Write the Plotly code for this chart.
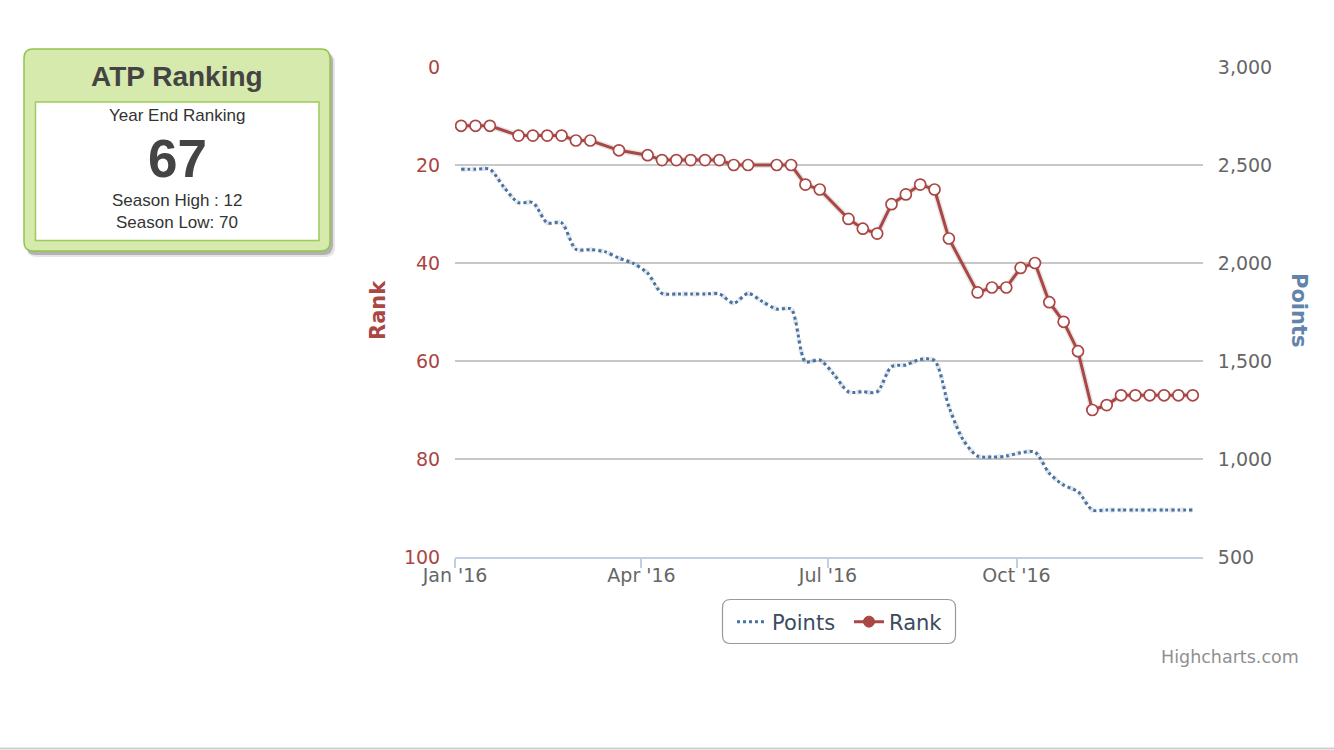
import plotly.graph_objects as go
import pandas as pd

# ---------------- data ----------------
week_start = "2016-01-04"
rank = [12, 12, 12, None, 14, 14, 14, 14, 15, 15, None, 17, None, 18, 19, 19, 19, 19, 19,
        20, 20, None, 20, 20, 24, 25, None, 31, 33, 34, 28, 26, 24, 25, 35, None,
        46, 45, 45, 41, 40, 48, 52, 58, 70, 69, 67, 67, 67, 67, 67, 67]
points = [2478, 2478, 2478, 2385, 2308, 2308, 2205, 2205, 2070, 2068, 2058, 2025, 1998, 1948,
          1845, 1842, 1842, 1842, 1842, 1795, 1845, 1803, 1765, 1765, 1497, 1505, 1430,
          1343, 1343, 1343, 1471, 1480, 1508, 1502, 1267, 1097, 1015, 1010, 1015, 1032,
          1035, 927, 867, 833, 740, 740, 740, 740, 740, 740, 740, 740]
x_tick_vals = ["2016-01-01", "2016-04-01", "2016-07-01", "2016-10-01"]
x_tick_text = ["Jan '16", "Apr '16", "Jul '16", "Oct '16"]
rank_ticks = [0, 20, 40, 60, 80, 100]
points_ticks = [500, 1000, 1500, 2000, 2500, 3000]
card_title = "ATP Ranking"
card_label = "Year End Ranking"
year_end_rank = 67
season_high = 12
season_low = 70

dates = pd.date_range(week_start, periods=len(rank), freq="7D")

# ---------------- layout helpers ----------------
W_FIG, H_FIG = 1334, 750
L, R, T, B = 455, 1203, 67, 557
PW, PH = R - L, B - T


def xp(px):
    return (px - L) / PW


def yp(py):
    return (B - py) / PH


def rrect(x0, y0, x1, y1, r):
    rx, ry = r / PW, r / PH
    X0, X1 = xp(x0), xp(x1)
    Y0, Y1 = yp(y0), yp(y1)  # Y0 top (larger), Y1 bottom
    return (f"M {X0+rx},{Y0} L {X1-rx},{Y0} Q {X1},{Y0} {X1},{Y0-ry} "
            f"L {X1},{Y1+ry} Q {X1},{Y1} {X1-rx},{Y1} L {X0+rx},{Y1} "
            f"Q {X0},{Y1} {X0},{Y1+ry} L {X0},{Y0-ry} Q {X0},{Y0} {X0+rx},{Y0} Z")


RED = "#AA4643"
BLUE = "#4572A7"
SHADOW = "rgba(0,0,0,0.10)"

fig = go.Figure()

# soft shadows (Highcharts style)
fig.add_trace(go.Scatter(
    x=dates, y=points, yaxis="y2", mode="lines", showlegend=False, hoverinfo="skip",
    line=dict(color=SHADOW, width=5, dash="dot", shape="spline", smoothing=0.8)))
fig.add_trace(go.Scatter(
    x=dates, y=rank, mode="lines", connectgaps=True, showlegend=False, hoverinfo="skip",
    line=dict(color=SHADOW, width=6)))

fig.add_trace(go.Scatter(
    x=dates, y=points, name="Points", yaxis="y2", mode="lines",
    line=dict(color=BLUE, width=3, dash="dot", shape="spline", smoothing=0.8),
    hoverinfo="x+y"))

fig.add_trace(go.Scatter(
    x=[None], y=[None], name="Rank", mode="lines+markers",
    line=dict(color=RED, width=3),
    marker=dict(color=RED, size=11, line=dict(color=RED, width=1))))

fig.add_trace(go.Scatter(
    x=dates, y=rank, name="Rank", mode="lines+markers", connectgaps=True,
    showlegend=False,
    line=dict(color=RED, width=3),
    marker=dict(color="white", size=11, line=dict(color=RED, width=1.7))))

shapes = []
# bottom page line
shapes.append(dict(type="line", xref="paper", yref="paper",
                   x0=xp(0), x1=xp(W_FIG), y0=yp(748.5), y1=yp(748.5),
                   line=dict(color="#cfcfcf", width=2), layer="below"))
# card shadow
shapes.append(dict(type="path", xref="paper", yref="paper",
                   path=rrect(27, 53, 335, 257, 10),
                   fillcolor="rgba(0,0,0,0.10)", line=dict(width=0)))
shapes.append(dict(type="path", xref="paper", yref="paper",
                   path=rrect(26, 52, 333, 255, 10),
                   fillcolor="rgba(0,0,0,0.22)", line=dict(width=0)))
# card body
shapes.append(dict(type="path", xref="paper", yref="paper",
                   path=rrect(24, 49, 330, 251, 9),
                   fillcolor="#d6eaae", line=dict(color="#93c54b", width=1.5)))
# inner white box
shapes.append(dict(type="rect", xref="paper", yref="paper",
                   x0=xp(35.5), x1=xp(319), y0=yp(102), y1=yp(240.5),
                   fillcolor="white", line=dict(color="#9ccc5a", width=1.5)))
# legend box
shapes.append(dict(type="path", xref="paper", yref="paper",
                   path=rrect(722.5, 599.5, 955.5, 643.5, 8),
                   fillcolor="white", line=dict(color="#999999", width=1.2),
                   layer="below"))

CARD_FONT = "Liberation Sans, Arial, sans-serif"
annotations = [
    dict(text=f"<b>{card_title}</b>", x=xp(177), y=yp(76),
         font=dict(family=CARD_FONT, size=28, color="#444444")),
    dict(text=card_label, x=xp(177), y=yp(116),
         font=dict(family=CARD_FONT, size=17, color="#333333")),
    dict(text=f"<b>{year_end_rank}</b>", x=xp(177), y=yp(158),
         font=dict(family=CARD_FONT, size=53, color="#444444")),
    dict(text=f"Season High : {season_high}", x=xp(177), y=yp(201),
         font=dict(family=CARD_FONT, size=17, color="#333333")),
    dict(text=f"Season Low: {season_low}", x=xp(177), y=yp(222),
         font=dict(family=CARD_FONT, size=17, color="#333333")),
    dict(text="<b>Rank</b>", x=xp(378), y=yp(310), textangle=-90,
         font=dict(family="DejaVu Sans", size=21, color=RED)),
    dict(text="<b>Points</b>", x=xp(1299), y=yp(310), textangle=90,
         font=dict(family="DejaVu Sans", size=21, color="#6283aa")),
    dict(text="Highcharts.com", x=xp(1301), y=yp(657), xanchor="right",
         font=dict(family="DejaVu Sans", size=17.5, color="#909090")),
]
for a in annotations:
    a.setdefault("xref", "paper")
    a.setdefault("yref", "paper")
    a.setdefault("showarrow", False)
    a.setdefault("xanchor", "center")
    a.setdefault("yanchor", "middle")

fig.update_layout(
    width=W_FIG, height=H_FIG, autosize=False,
    margin=dict(l=L, r=W_FIG - R, t=T, b=H_FIG - B, pad=0),
    paper_bgcolor="white", plot_bgcolor="white",
    font=dict(family="DejaVu Sans", color="#666666"),
    xaxis=dict(type="date", range=["2016-01-01", "2016-12-31"],
               tickvals=x_tick_vals, ticktext=x_tick_text,
               showgrid=False, zeroline=False,
               showline=True, linecolor="#C0D0E0", linewidth=1.5,
               ticks="outside", tickcolor="#C0D0E0", ticklen=9, tickwidth=1.5,
               ticklabelstandoff=-9,
               tickfont=dict(size=19, color="#666666")),
    yaxis=dict(range=[100, 0], tickvals=rank_ticks,
               showgrid=True, gridcolor="#C8C8C8", gridwidth=1.5,
               zeroline=False, showline=False,
               ticks="outside", ticklen=10, tickcolor="rgba(0,0,0,0)",
               tickfont=dict(size=19, color=RED)),
    yaxis2=dict(range=[500, 3000], tickvals=points_ticks, tickformat=",",
                overlaying="y", side="right", showgrid=False, zeroline=False,
                showline=False,
                ticks="outside", ticklen=10, tickcolor="rgba(0,0,0,0)",
                tickfont=dict(size=19, color="#666666")),
    legend=dict(orientation="h", x=xp(732), xanchor="left",
                y=yp(622), yanchor="middle",
                bgcolor="rgba(0,0,0,0)", borderwidth=0,
                font=dict(family="DejaVu Sans", size=21, color="#3b4b60"),
                itemwidth=30, traceorder="normal",
                entrywidth=72, entrywidthmode="pixels"),
    shapes=shapes,
    annotations=annotations,
    hovermode="x",
)

fig.write_html("out.html", config={"displayModeBar": False},
               post_script="document.body.style.margin='0';")
